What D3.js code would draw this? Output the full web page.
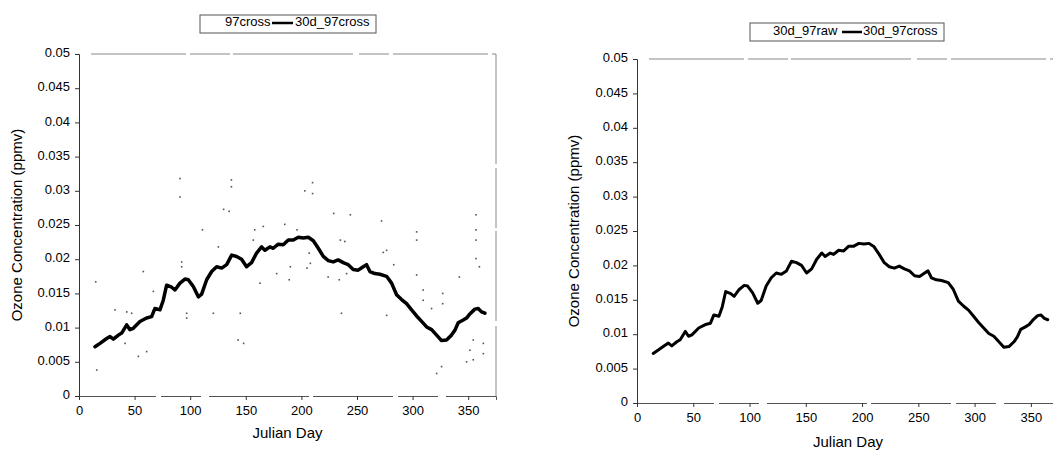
<!DOCTYPE html>
<html>
<head>
<meta charset="utf-8">
<script src="https://cdn.jsdelivr.net/npm/d3@7"></script>
<style>
  html, body { margin: 0; padding: 0; background: #fff; }
  svg { display: block; font-family: "Liberation Sans", Arial, sans-serif; }
</style>
</head>
<body>
<svg id="chart" width="1053" height="450"></svg>
<script>
// 30-day running mean (30d_97cross)
const days = [14.4, 18.9, 24.9, 27.9, 30.9, 35.4, 38.4, 42.9, 45.8, 48.8, 54.8, 60.8, 65.3, 68.3, 72.8, 75.8, 78.8, 83.3, 86.3, 90.8, 95.3, 98.3, 102.8, 107.3, 110.3, 114.8, 119.3, 123.8, 128.3, 132.8, 137.3, 141.7, 146.2, 150.7, 155.2, 159.7, 164.2, 167.2, 171.7, 174.7, 179.2, 183.7, 188.2, 192.7, 197.2, 201.7, 206.2, 210.7, 215.2, 219.7, 224.2, 228.6, 233.1, 237.6, 242.1, 246.6, 251.1, 255.6, 258.6, 261.6, 266.1, 270.6, 276.6, 281.1, 285.6, 290.1, 294.6, 299.1, 303.6, 308.1, 312.6, 317.1, 321.6, 326.0, 330.5, 335.0, 338.0, 341.0, 345.5, 348.5, 351.5, 356.0, 359.0, 362.0, 365.0];
const avg30 = [0.0072, 0.0077, 0.0084, 0.0087, 0.0083, 0.0089, 0.0092, 0.0104, 0.0097, 0.0099, 0.0109, 0.0114, 0.0116, 0.0128, 0.0126, 0.0140, 0.0162, 0.0159, 0.0155, 0.0165, 0.0171, 0.0170, 0.0160, 0.0145, 0.0149, 0.0170, 0.0182, 0.0189, 0.0187, 0.0192, 0.0206, 0.0204, 0.0200, 0.0189, 0.0195, 0.0209, 0.0218, 0.0213, 0.0218, 0.0216, 0.0222, 0.0221, 0.0228, 0.0228, 0.0232, 0.0231, 0.0232, 0.0227, 0.0216, 0.0204, 0.0198, 0.0196, 0.0199, 0.0195, 0.0192, 0.0185, 0.0184, 0.0189, 0.0192, 0.0182, 0.0179, 0.0178, 0.0175, 0.0165, 0.0148, 0.0141, 0.0135, 0.0126, 0.0117, 0.0109, 0.0101, 0.0097, 0.0089, 0.0081, 0.0082, 0.0089, 0.0096, 0.0107, 0.0111, 0.0114, 0.0120, 0.0127, 0.0128, 0.0123, 0.0121];

// raw cross-calibrated observations (97cross), visible dots
const rawDays = [15.9, 15.0, 90.8, 90.8, 137, 137, 130, 135, 111, 210, 210, 203, 229, 244, 272, 303.6, 303.6, 357, 357, 357, 357, 158, 165.7, 185, 196, 235, 239, 273.6, 276.6, 303.6, 309.5, 309.5, 317, 327, 327, 342, 360, 351.5, 354.5, 363.6, 363.6, 321.6, 326, 145, 143, 148, 96.8, 96.8, 120.8, 92.3, 92.3, 57.8, 42.9, 47.3, 32.4, 53.3, 60.8, 41.4, 66.8, 207, 208, 205, 190, 189, 224, 234, 240.6, 283, 302, 236, 276.6, 177.7, 162.7, 156.7, 125.3, 354.5, 348.5];
const rawVals = [0.0038, 0.0167, 0.0318, 0.0291, 0.0316, 0.0306, 0.0273, 0.0270, 0.0243, 0.0312, 0.0296, 0.0300, 0.0267, 0.0265, 0.0256, 0.0240, 0.0228, 0.0265, 0.0243, 0.0228, 0.0201, 0.0243, 0.0248, 0.0251, 0.0243, 0.0228, 0.0226, 0.0210, 0.0213, 0.0177, 0.0155, 0.0140, 0.0128, 0.0150, 0.0135, 0.0174, 0.0189, 0.0067, 0.0053, 0.0077, 0.0062, 0.0033, 0.0043, 0.0121, 0.0082, 0.0077, 0.0121, 0.0114, 0.0121, 0.0189, 0.0196, 0.0182, 0.0123, 0.0121, 0.0126, 0.0058, 0.0065, 0.0077, 0.0153, 0.0209, 0.0194, 0.0187, 0.0189, 0.0170, 0.0174, 0.0170, 0.0179, 0.0192, 0.0121, 0.0121, 0.0118, 0.0179, 0.0165, 0.0228, 0.0218, 0.0082, 0.0050];

const yTicks = [0, 0.005, 0.01, 0.015, 0.02, 0.025, 0.03, 0.035, 0.04, 0.045, 0.05];
const yTickLabels = ["0", "0.005", "0.01", "0.015", "0.02", "0.025", "0.03", "0.035", "0.04", "0.045", "0.05"];
const xTicks = [0, 50, 100, 150, 200, 250, 300, 350];
const xTickLabels = ["0", "50", "100", "150", "200", "250", "300", "350"];

const leftLegend = ["97cross", "30d_97cross"];
const rightLegend = ["30d_97raw", "30d_97cross"];
const yTitle = "Ozone Concentration (ppmv)";
const xTitle = "Julian Day";

const svg = d3.select("#chart");

function panel(cfg) {
  const g = svg.append("g");
  const x = d3.scaleLinear().domain([0, 375]).range([cfg.left, cfg.right]);
  const y = d3.scaleLinear().domain([0, 0.05]).range([cfg.bottom, cfg.top]);

  // frame (top & right): faint, broken like the scanned original
  g.append("line").attr("x1", cfg.left + 12).attr("x2", cfg.right).attr("y1", cfg.top).attr("y2", cfg.top)
    .attr("stroke", "#888").attr("stroke-width", 1).attr("stroke-dasharray", "95,4,40,3,120,6,30,4");
  g.append("line").attr("x1", cfg.right).attr("x2", cfg.right).attr("y1", cfg.top).attr("y2", cfg.bottom)
    .attr("stroke", "#888").attr("stroke-width", 1).attr("stroke-dasharray", "110,4,60,3,90,5");

  // axes
  const yAxis = d3.axisLeft(y).tickValues(yTicks).tickSize(4).tickPadding(5)
    .tickFormat((d, i) => yTickLabels[i]);
  const xAxis = d3.axisBottom(x).tickValues(xTicks).tickSize(4).tickPadding(6)
    .tickFormat((d, i) => xTickLabels[i]);

  const ya = g.append("g").attr("transform", `translate(${cfg.left},0)`).call(yAxis);
  const xa = g.append("g").attr("transform", `translate(0,${cfg.bottom})`).call(xAxis);
  [ya, xa].forEach(a => {
    a.select(".domain").attr("stroke", "#333").attr("stroke-width", 1);
    a.selectAll(".tick line").attr("stroke", "#333");
    a.selectAll(".tick text").attr("fill", "#000").style("font-size", "13px")
      .style("font-family", "'Liberation Sans', Arial, sans-serif");
  });
  xa.select(".domain").attr("stroke", "#555").attr("stroke-dasharray", "80,5,40,8,100,4");
  ya.selectAll(".tick text").attr("dy", "0.2em");

  // raw dots
  if (cfg.dots) {
    g.append("g").selectAll("rect").data(rawDays).join("rect")
      .attr("x", (d) => x(d) - 0.75)
      .attr("y", (d, i) => y(rawVals[i]) - 0.75)
      .attr("width", 1.6).attr("height", 1.6)
      .attr("fill", "#555");
  }

  // 30-day line
  const line = d3.line().x((d) => x(d)).y((d, i) => y(avg30[i])).curve(d3.curveLinear);
  g.append("path").datum(days)
    .attr("d", line).attr("fill", "none").attr("stroke", "#000")
    .attr("stroke-width", cfg.lw).attr("stroke-linejoin", "round").attr("stroke-linecap", "round");

  // titles
  g.append("text").attr("x", (cfg.left + cfg.right) / 2).attr("y", cfg.xTitleY)
    .attr("text-anchor", "middle").attr("dominant-baseline", "middle")
    .style("font-size", "15px").text(xTitle);
  g.append("text")
    .attr("transform", `translate(${cfg.yTitleX},${cfg.yTitleY}) rotate(-90)`)
    .attr("text-anchor", "middle").attr("dominant-baseline", "middle")
    .style("font-size", "15px").text(yTitle);

  // legend
  const L = cfg.legend;
  g.append("rect").attr("x", L.x0).attr("y", L.y0).attr("width", L.x1 - L.x0).attr("height", L.y1 - L.y0)
    .attr("fill", "none").attr("stroke", "#555").attr("stroke-width", 1);
  g.append("text").attr("x", L.t1).attr("y", L.ty).attr("dominant-baseline", "middle")
    .style("font-size", "13px").text(cfg.legendItems[0]);
  g.append("line").attr("x1", L.l0).attr("x2", L.l1).attr("y1", L.ty).attr("y2", L.ty)
    .attr("stroke", "#000").attr("stroke-width", 2.5);
  g.append("text").attr("x", L.t2).attr("y", L.ty).attr("dominant-baseline", "middle")
    .style("font-size", "13px").text(cfg.legendItems[1]);
}

panel({
  left: 79, right: 496, top: 54, bottom: 396, dots: true, lw: 3.5,
  xTitleY: 434, yTitleX: 18, yTitleY: 225,
  legendItems: leftLegend,
  legend: { x0: 200, x1: 376, y0: 15, y1: 33, ty: 23, t1: 225, l0: 272, l1: 293, t2: 295 }
});

panel({
  left: 637, right: 1059, top: 59, bottom: 403, dots: false, lw: 3,
  xTitleY: 443, yTitleX: 575, yTitleY: 231,
  legendItems: rightLegend,
  legend: { x0: 750, x1: 944, y0: 23, y1: 41, ty: 32, t1: 773, l0: 842, l1: 862, t2: 863 }
});
</script>
</body>
</html>
